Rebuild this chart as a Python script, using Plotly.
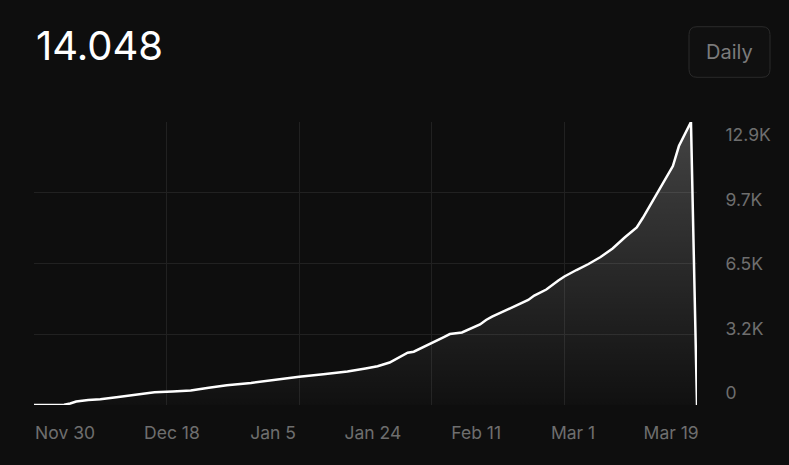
import plotly.graph_objects as go

# ---- data ----
dates = ["2024-11-30", "2024-12-05", "2024-12-06", "2024-12-07", "2024-12-09", "2024-12-11",
         "2024-12-14", "2024-12-16", "2024-12-19", "2024-12-20", "2024-12-23", "2024-12-26",
         "2024-12-29", "2025-01-01", "2025-01-05", "2025-01-09", "2025-01-13", "2025-01-17",
         "2025-01-21", "2025-01-24", "2025-01-26", "2025-01-28", "2025-01-30", "2025-01-31",
         "2025-02-01", "2025-02-04", "2025-02-06", "2025-02-07", "2025-02-08", "2025-02-09",
         "2025-02-12", "2025-02-13", "2025-02-14", "2025-02-18", "2025-02-20", "2025-02-21",
         "2025-02-23", "2025-02-25", "2025-02-26", "2025-02-28", "2025-03-02", "2025-03-04",
         "2025-03-06", "2025-03-08", "2025-03-10", "2025-03-11", "2025-03-12", "2025-03-13",
         "2025-03-14", "2025-03-15", "2025-03-16", "2025-03-17", "2025-03-18", "2025-03-19",
         "2025-03-20"]
values = [0, 10, 68, 160, 228, 264,
          365, 433, 524, 579, 615, 661,
          784, 902, 1003, 1149, 1290, 1399,
          1527, 1664, 1764, 1937, 2233, 2384,
          2429, 2812, 3099, 3236, 3259, 3305,
          3669, 3874, 4025, 4512, 4786, 4991,
          5264, 5675, 5857, 6153, 6427, 6746,
          7133, 7635, 8091, 8523, 9002, 9504,
          9982, 10483, 10894, 11805, 12352, 12900,
          0]

y_ticks = [0, 3225, 6450, 9675, 12900]
y_tick_labels = ["0", "3.2K", "6.5K", "9.7K", "12.9K"]
x_grid_dates = ["2024-11-30", "2024-12-22", "2025-01-13", "2025-02-04", "2025-02-26", "2025-03-20"]
x_tick_labels = ["Nov 30", "Dec 18", "Jan 5", "Jan 24", "Feb 11", "Mar 1", "Mar 19"]
x_label_pos = [0.0468, 0.208, 0.3605, 0.511, 0.667, 0.813, 0.961]
headline = "14.048"
button_text = "Daily"

BG = "#0e0e0e"
GRID = "#212121"
LABEL = "#6e6e6e"
FONT = "Inter"

fig = go.Figure()
fig.add_trace(go.Scatter(
    x=dates, y=values, mode="lines",
    line=dict(color="#ffffff", width=2.5),
    fill="tozeroy",
    fillgradient=dict(type="vertical",
                      colorscale=[[0, "rgba(255,255,255,0.01)"], [1, "rgba(255,255,255,0.22)"]]),
    hoverinfo="skip", showlegend=False,
))
# helper trace for the label axes
fig.add_trace(go.Scatter(x=[None], y=[None], xaxis="x2", yaxis="y2",
                         showlegend=False, hoverinfo="skip"))

fig.update_layout(
    width=789, height=465,
    margin=dict(l=34, r=92, t=122, b=60),
    paper_bgcolor=BG, plot_bgcolor=BG,
    font=dict(family=FONT, color=LABEL, size=17.5),
    xaxis=dict(type="date", range=[dates[0], dates[-1]],
               tickvals=x_grid_dates, showticklabels=False,
               showgrid=True, gridcolor=GRID, gridwidth=1,
               zeroline=False, showline=False, ticks=""),
    yaxis=dict(range=[0, y_ticks[-1]], tickvals=y_ticks, showticklabels=False,
               showgrid=True, gridcolor=GRID, gridwidth=1,
               zeroline=False, showline=False, ticks=""),
    xaxis2=dict(overlaying="x", anchor="y", side="bottom", range=[0, 1],
                tickvals=x_label_pos, ticktext=x_tick_labels,
                showgrid=False, zeroline=False, showline=False,
                ticks="outside", ticklen=12, tickcolor="rgba(0,0,0,0)",
                tickfont=dict(family=FONT, color=LABEL, size=17.5)),
    yaxis2=dict(overlaying="y", anchor="x", side="right", range=[-600, 13550],
                tickvals=y_ticks, ticktext=y_tick_labels,
                showgrid=False, zeroline=False, showline=False,
                ticks="outside", ticklen=24, tickcolor="rgba(0,0,0,0)",
                tickfont=dict(family=FONT, color=LABEL, size=17.5)),
)

# headline number
fig.add_annotation(text=headline, xref="paper", yref="paper", x=0, y=1.2686,
                   xanchor="left", yanchor="middle", showarrow=False,
                   font=dict(family=FONT, size=40, color="#ffffff"))

# "Daily" button
x0, x1, y0, y1, r = -8, 73, 44.7, 95.3, 8
path = (f"M {x0+r},{y0} L {x1-r},{y0} Q {x1},{y0} {x1},{y0+r} L {x1},{y1-r} "
        f"Q {x1},{y1} {x1-r},{y1} L {x0+r},{y1} Q {x0},{y1} {x0},{y1-r} "
        f"L {x0},{y0+r} Q {x0},{y0} {x0+r},{y0} Z")
fig.add_shape(type="path", xref="paper", yref="paper", xsizemode="pixel", ysizemode="pixel",
              xanchor=1, yanchor=1, path=path,
              line=dict(color="#2a2a2a", width=1), fillcolor="#101010", layer="above")
fig.add_annotation(text=button_text, xref="paper", yref="paper", x=1.049, y=1.2473,
                   xanchor="center", yanchor="middle", showarrow=False,
                   font=dict(family=FONT, size=20, color="#7b7b7b"))

fig.write_html("out.html", config={"displayModeBar": False},
               post_script="document.body.style.margin='0';document.body.style.background='#0e0e0e';")
